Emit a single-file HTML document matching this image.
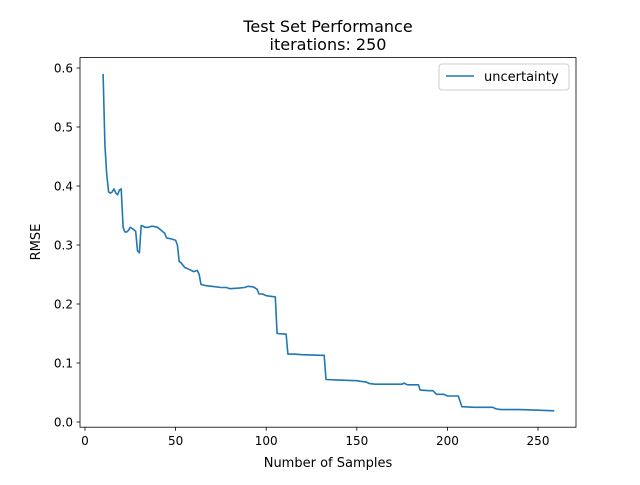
<!DOCTYPE html>
<html><head><meta charset="utf-8"><style>
body{margin:0;background:#fff;font-family:"Liberation Sans","DejaVu Sans",sans-serif}
</style></head><body>
<svg width="640" height="480" xmlns="http://www.w3.org/2000/svg" font-family="DejaVu Sans, Liberation Sans, sans-serif">
<rect width="640" height="480" fill="#fff"/>
<g id="ticks"></g>
<path id="line" fill="none" stroke="#1f77b4" stroke-width="1.6" stroke-linejoin="round"/>
<rect x="80" y="57.6" width="496" height="369.6" fill="none" stroke="#000" stroke-width="0.8"/>
<text x="328" y="32" text-anchor="middle" font-size="16">Test Set Performance</text>
<text x="328" y="50" text-anchor="middle" font-size="16">iterations: 250</text>
<text x="328" y="467" text-anchor="middle" font-size="13">Number of Samples</text>
<text x="40" y="242" text-anchor="middle" font-size="13" transform="rotate(-90 40 242)">RMSE</text>
<g>
<rect x="439" y="64" width="130" height="26" rx="3" fill="#fff" stroke="#ccc"/>
<line x1="446" y1="76" x2="474" y2="76" stroke="#1f77b4" stroke-width="1.6"/>
<text x="484" y="81" font-size="13">uncertainty</text>
</g>
</svg>
<script>
const xs=[10,11,12,13,14,15,16,17,18,19,20,21,22,23,24,25,26,27,28,29,30,31,32,33,35,37,40,42,44,45,48,50,51,52,53,55,58,60,62,63,64,67,70,75,78,80,85,88,90,93,95,96,98,100,105,106,110,111,112,115,120,130,132,133,140,150,152,155,157,160,170,175,176,178,184,185,190,192,194,198,200,206,208,215,225,227,230,240,250,259];
const rmse=[0.59,0.47,0.42,0.39,0.388,0.39,0.395,0.388,0.385,0.393,0.395,0.33,0.322,0.322,0.325,0.33,0.328,0.326,0.323,0.29,0.287,0.333,0.332,0.33,0.33,0.332,0.33,0.325,0.32,0.312,0.31,0.308,0.3,0.272,0.27,0.262,0.258,0.255,0.257,0.25,0.233,0.231,0.23,0.228,0.228,0.226,0.227,0.228,0.23,0.229,0.225,0.217,0.217,0.214,0.212,0.15,0.149,0.149,0.115,0.115,0.114,0.113,0.113,0.072,0.071,0.07,0.069,0.068,0.065,0.064,0.064,0.064,0.066,0.063,0.063,0.054,0.053,0.053,0.047,0.047,0.044,0.044,0.026,0.025,0.025,0.022,0.021,0.021,0.02,0.019];
const xTicks=[0,50,100,150,200,250];
const yTicks=[0.0,0.1,0.2,0.3,0.4,0.5,0.6];
const X=v=>85+v*(538-85)/250;
const Y=v=>422-v*(422-68)/0.6;
const NS='http://www.w3.org/2000/svg';
const g=document.getElementById('ticks');
function mk(t,a){const e=document.createElementNS(NS,t);for(const k in a)e.setAttribute(k,a[k]);g.appendChild(e);return e;}
xTicks.forEach(v=>{
 const l=mk('line',{x1:X(v),x2:X(v),y1:427.2,y2:430.7,stroke:'#000','stroke-width':0.8});
 
 
 const t=mk('text',{x:X(v),y:445,'text-anchor':'middle','font-size':12});
 t.textContent=v;
 
 
});
yTicks.forEach(v=>{
 const l=mk('line',{x1:76.5,x2:80,y1:Y(v),y2:Y(v),stroke:'#000','stroke-width':0.8});
 
 
 const t=mk('text',{x:73,y:Y(v)+4.5,'text-anchor':'end','font-size':12});
 t.textContent=v.toFixed(1);
 
 
});
document.getElementById('line').setAttribute('d',xs.map((x,i)=>(i?'L':'M')+X(x).toFixed(1)+' '+Y(rmse[i]).toFixed(1)).join(' '));
</script>
</body></html>
